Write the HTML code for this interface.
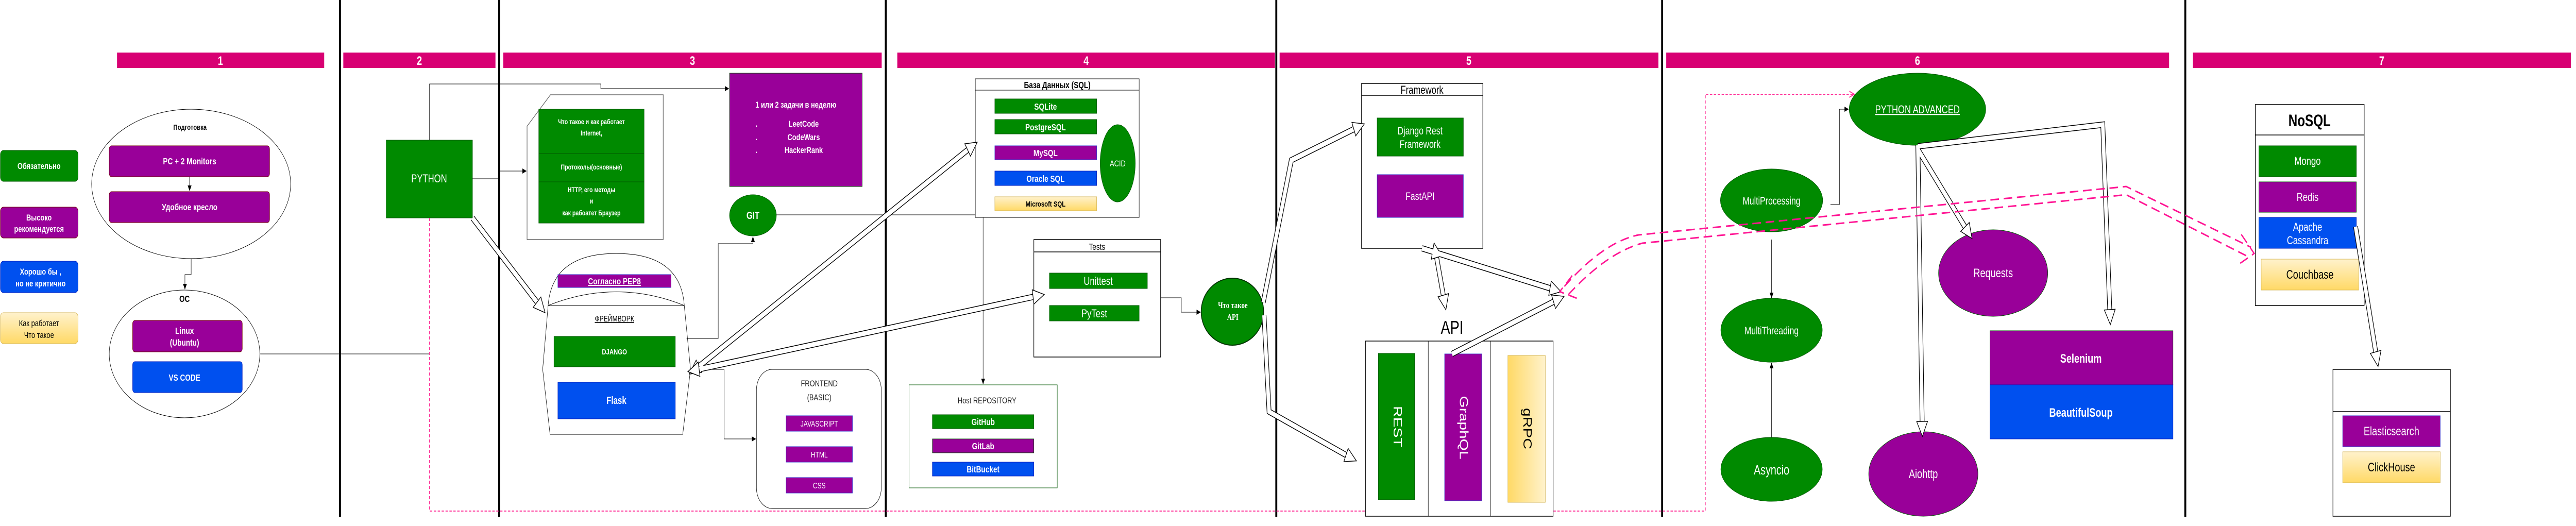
<!DOCTYPE html>
<html><head><meta charset="utf-8"><style>
html,body{margin:0;padding:0;background:#fff;width:100%;height:100%;overflow:hidden;}
svg{display:block;position:fixed;left:0;top:0;width:100vw;height:100vh;}
text{font-family:"Liberation Sans","Noto Sans CJK SC",sans-serif;}
</style></head><body>
<svg viewBox="0 0 6603 1021" preserveAspectRatio="none" xmlns="http://www.w3.org/2000/svg">
<defs>
<linearGradient id="yg" x1="0" y1="0" x2="0" y2="1"><stop offset="0" stop-color="#fff2cc"/><stop offset="1" stop-color="#ffd966"/></linearGradient>
<linearGradient id="ygh" x1="0" y1="0" x2="1" y2="0"><stop offset="0" stop-color="#ffd966"/><stop offset="1" stop-color="#fff2cc"/></linearGradient>
<marker id="ha" markerUnits="userSpaceOnUse" markerWidth="34" markerHeight="34" viewBox="0 0 34 34" refX="3" refY="17" orient="auto-start-reverse"><path d="M1,3 L30,17 L1,31 Z" fill="#fff" stroke="#000" stroke-width="1.5"/></marker>
<marker id="ta" markerUnits="userSpaceOnUse" markerWidth="12" markerHeight="12" viewBox="0 0 12 12" refX="10" refY="6" orient="auto"><path d="M0,1 L11,6 L0,11 Z" fill="#000"/></marker>
<marker id="pa" markerUnits="userSpaceOnUse" markerWidth="14" markerHeight="14" viewBox="0 0 14 14" refX="12" refY="7" orient="auto"><path d="M0,1 L13,7 L0,13" fill="none" stroke="#ff3399" stroke-width="2"/></marker>
</defs>

<g fill="#000">
<rect x="869" y="0" width="5" height="1003"/>
<rect x="1277" y="0" width="5" height="1003"/>
<rect x="2268" y="0" width="5" height="1003"/>
<rect x="3269" y="0" width="5" height="1003"/>
<rect x="4258" y="0" width="5" height="1003"/>
<rect x="5599" y="0" width="5" height="1003"/>
</g>

<g fill="#d80073">
<rect x="300" y="102" width="531" height="30"/>
<rect x="880" y="102" width="390" height="30"/>
<rect x="1290" y="102" width="970" height="30"/>
<rect x="2300" y="102" width="968" height="30"/>
<rect x="3280" y="102" width="971" height="30"/>
<rect x="4271" y="102" width="1289" height="30"/>
<rect x="5621" y="102" width="969" height="30"/>
</g>
<g fill="#fff" font-weight="bold" font-size="24" text-anchor="middle">
<text x="565" y="126">1</text><text x="1075" y="126">2</text><text x="1775" y="126">3</text>
<text x="2784" y="126">4</text><text x="3765" y="126">5</text><text x="4915" y="126">6</text><text x="6105" y="126">7</text>
</g>

<rect x="1" y="292" width="199" height="60" rx="8" fill="#008a00" stroke="#005700"/>
<rect x="1" y="402" width="199" height="60" rx="8" fill="#990099" stroke="#6f0000"/>
<rect x="1" y="507" width="199" height="61" rx="8" fill="#0050ef" stroke="#001dbc"/>
<rect x="1" y="607" width="199" height="60" rx="8" fill="url(#yg)" stroke="#d6b656"/>
<g font-weight="bold" font-size="17" fill="#fff" text-anchor="middle">
<text x="100" y="328">Обязательно</text>
<text x="100" y="428">Высоко</text><text x="100" y="450">рекомендуется</text>
<text x="104" y="533">Хорошо бы ,</text><text x="104" y="556">но не критично</text>
</g>
<g font-size="17" fill="#000" text-anchor="middle"><text x="100" y="633">Как работает</text><text x="100" y="656">Что такое</text></g>

<ellipse cx="490" cy="357" rx="255" ry="145" fill="#fff" stroke="#000"/>
<text x="487" y="252" font-size="15" font-weight="bold" text-anchor="middle">Подготовка</text>
<rect x="280" y="283" width="411" height="60" rx="6" fill="#990099" stroke="#6f0000"/>
<rect x="280" y="372" width="411" height="60" rx="6" fill="#990099" stroke="#6f0000"/>
<g font-weight="bold" font-size="18" fill="#fff" text-anchor="middle"><text x="486" y="319">PC + 2 Monitors</text><text x="486" y="408">Удобное кресло</text></g>
<path d="M486,343 V370" stroke="#000" marker-end="url(#ta)"/>
<path d="M490,502 V533 H474 V561" stroke="#000" fill="none" marker-end="url(#ta)"/>
<ellipse cx="473" cy="687" rx="193" ry="124" fill="#fff" stroke="#000"/>
<text x="473" y="586" font-size="18" font-weight="bold" text-anchor="middle">ОС</text>
<rect x="340" y="622" width="281" height="61" rx="6" fill="#990099" stroke="#6f0000"/>
<rect x="340" y="702" width="281" height="60" rx="6" fill="#0050ef" stroke="#001dbc"/>
<g font-weight="bold" font-size="18" fill="#fff" text-anchor="middle"><text x="473" y="648">Linux</text><text x="473" y="671">(Ubuntu)</text><text x="473" y="739">VS CODE</text></g>
<path d="M666,687 H1101" stroke="#000" fill="none"/>

<rect x="990" y="272" width="221" height="151" fill="#008a00" stroke="#005700"/>
<text x="1100" y="354" font-size="22" fill="#fff" text-anchor="middle">PYTHON</text>
<path d="M1101,272 V163 H1540 V172 H1868" stroke="#000" fill="none" marker-end="url(#ta)"/>
<path d="M1211,347 H1279 V332 H1349" stroke="#000" fill="none" marker-end="url(#ta)"/>
<path d="M1101,423 V992 H4371 V183 H4752" stroke="#ff3399" stroke-width="2" stroke-dasharray="6 4" fill="none" marker-end="url(#pa)"/>

<path d="M1411,184 H1700 V465 H1351 V245 Z" fill="#fff" stroke="#666" stroke-width="1.5"/>
<rect x="1381" y="212" width="270" height="221" fill="#008a00" stroke="#005700"/>
<path d="M1381,298 H1651 M1381,353 H1651" stroke="#005700"/>
<g font-weight="bold" font-size="14" fill="#fff" text-anchor="middle">
<text x="1516" y="241">Что такое и как работает</text><text x="1516" y="263">Internet,</text>
<text x="1516" y="329">Протоколы(основные)</text>
<text x="1516" y="373">HTTP, его методы</text><text x="1516" y="395">и</text><text x="1516" y="418">как рабоатет Браузер</text>
</g>
<rect x="1870" y="142" width="340" height="220" fill="#990099" stroke="#005700"/>
<g font-weight="bold" font-size="17" fill="#fff" text-anchor="middle">
<text x="2040" y="209">1 или 2 задачи в неделю</text>
<text x="2060" y="246">LeetCode</text><text x="2060" y="272">CodeWars</text><text x="2060" y="297">HackerRank</text>
<text x="1939" y="246">.</text><text x="1939" y="272">.</text><text x="1939" y="297">.</text>
</g>
<ellipse cx="1930" cy="418" rx="60" ry="40" fill="#008a00" stroke="#005700"/>
<text x="1930" y="425" font-weight="bold" font-size="20" fill="#fff" text-anchor="middle">GIT</text>
<path d="M1990,417 H2520 V745" stroke="#000" fill="none" marker-end="url(#ta)"/>

<path d="M1405,593 Q1415,492 1580,492 Q1745,492 1754,593 Z" fill="#fff" stroke="#000"/>
<path d="M1405,593 Q1580,540 1754,593" fill="none" stroke="#000"/>
<path d="M1405,593 H1754 L1770,717 L1750,843 H1410 L1391,717 Z" fill="#fff" stroke="#000"/>
<rect x="1430" y="533" width="290" height="25" fill="#990099" stroke="#3333cc"/>
<text x="1575" y="552" font-weight="bold" font-size="18" fill="#fff" text-anchor="middle" text-decoration="underline">Согласно PEP8</text>
<text x="1575" y="624" font-size="16" text-anchor="middle" text-decoration="underline">ФРЕЙМВОРК</text>
<rect x="1420" y="653" width="311" height="59" fill="#008a00" stroke="#005700"/>
<text x="1575" y="688" font-weight="bold" font-size="15" fill="#fff" text-anchor="middle">DJANGO</text>
<rect x="1430" y="742" width="301" height="71" fill="#0050ef" stroke="#001dbc"/>
<text x="1580" y="784" font-weight="bold" font-size="20" fill="#fff" text-anchor="middle">Flask</text>
<path d="M1760,657 H1841 V473 H1930 V460" stroke="#000" fill="none" marker-end="url(#ta)"/>
<path d="M1770,717 H1856 V852 H1937" stroke="#000" fill="none" marker-end="url(#ta)"/>

<rect x="1939" y="717" width="320" height="270" rx="40" fill="#fff" stroke="#000"/>
<g font-size="17" fill="#222" text-anchor="middle"><text x="2100" y="750">FRONTEND</text><text x="2100" y="777">(BASIC)</text></g>
<rect x="2015" y="807" width="170" height="30" fill="#990099" stroke="#3333cc"/>
<rect x="2015" y="867" width="170" height="30" fill="#990099" stroke="#3333cc"/>
<rect x="2015" y="927" width="170" height="30" fill="#990099" stroke="#3333cc"/>
<g font-size="16" fill="#fff" text-anchor="middle"><text x="2100" y="828">JAVASCRIPT</text><text x="2100" y="888">HTML</text><text x="2100" y="948">CSS</text></g>

<rect x="2500" y="153" width="420" height="269" fill="#fff" stroke="#000"/>
<path d="M2500,175 H2920" stroke="#000"/>
<text x="2710" y="171" font-weight="bold" font-size="18" text-anchor="middle">База Данных (SQL)</text>
<rect x="2550" y="192" width="261" height="28" fill="#008a00" stroke="#005700"/>
<rect x="2550" y="232" width="261" height="28" fill="#008a00" stroke="#005700"/>
<rect x="2550" y="283" width="261" height="27" fill="#990099" stroke="#3333cc"/>
<rect x="2550" y="332" width="261" height="28" fill="#0050ef" stroke="#001dbc"/>
<rect x="2550" y="382" width="261" height="27" fill="url(#yg)" stroke="#d6b656"/>
<g font-weight="bold" font-size="18" fill="#fff" text-anchor="middle">
<text x="2680" y="213">SQLite</text><text x="2680" y="253">PostgreSQL</text><text x="2680" y="303">MySQL</text><text x="2680" y="353">Oracle SQL</text>
</g>
<text x="2680" y="401" font-weight="bold" font-size="15" text-anchor="middle">Microsoft SQL</text>
<ellipse cx="2865" cy="317" rx="45" ry="75" fill="#008a00" stroke="#005700"/>
<text x="2865" y="323" font-size="17" fill="#fff" text-anchor="middle">ACID</text>

<rect x="2650" y="465" width="325" height="228" fill="#fff" stroke="#000" stroke-width="1.5"/>
<path d="M2650,489 H2975" stroke="#000" stroke-width="1.5"/>
<text x="2812" y="485" font-size="18" text-anchor="middle">Tests</text>
<rect x="2690" y="530" width="251" height="30" fill="#008a00" stroke="#005700"/>
<rect x="2690" y="593" width="230" height="30" fill="#008a00" stroke="#005700"/>
<g font-size="22" fill="#fff" text-anchor="middle"><text x="2815" y="553">Unittest</text><text x="2805" y="616">PyTest</text></g>
<path d="M2975,578 H3028 V606 H3077" stroke="#000" fill="none" marker-end="url(#ta)"/>
<ellipse cx="3159" cy="605" rx="80" ry="65" fill="#008a00" stroke="#003300" stroke-width="2"/>
<g font-weight="bold" font-size="17" fill="#fff" text-anchor="middle"><text x="3160" y="598" style="font-family:'Liberation Serif',serif">Что такое</text><text x="3160" y="621" style="font-family:'Liberation Serif',serif">API</text></g>

<rect x="2330" y="747" width="380" height="200" fill="#fff" stroke="#005700"/>
<text x="2530" y="783" font-size="17" fill="#222" text-anchor="middle">Host REPOSITORY</text>
<rect x="2390" y="805" width="260" height="27" fill="#008a00" stroke="#005700"/>
<rect x="2390" y="852" width="260" height="27" fill="#990099" stroke="#005700"/>
<rect x="2390" y="897" width="260" height="27" fill="#0050ef" stroke="#001dbc"/>
<g font-weight="bold" font-size="18" fill="#fff" text-anchor="middle"><text x="2520" y="825">GitHub</text><text x="2520" y="872">GitLab</text><text x="2520" y="917">BitBucket</text></g>

<rect x="3490" y="162" width="311" height="320" fill="#fff" stroke="#000" stroke-width="1.5"/>
<path d="M3490,185 H3801" stroke="#000" stroke-width="1.5"/>
<text x="3645" y="182" font-size="22" text-anchor="middle">Framework</text>
<rect x="3530" y="229" width="221" height="74" fill="#008a00" stroke="#005700"/>
<rect x="3530" y="339" width="221" height="83" fill="#990099" stroke="#3333cc"/>
<g font-size="21" fill="#fff" text-anchor="middle"><text x="3640" y="261">Django Rest</text><text x="3640" y="287">Framework</text><text x="3640" y="388">FastAPI</text></g>
<text x="3722" y="648" font-size="36" text-anchor="middle">API</text>
<rect x="3500" y="662" width="481" height="340" fill="#fff" stroke="#000" stroke-width="1.5"/>
<path d="M3661,662 V1002 M3821,662 V1002" stroke="#000"/>
<rect x="3533" y="686" width="93" height="284" fill="#008a00" stroke="#005700"/>
<rect x="3703" y="687" width="95" height="285" fill="#990099" stroke="#3333cc"/>
<rect x="3865" y="690" width="96" height="285" fill="url(#ygh)" stroke="#d6b656"/>
<text transform="translate(3580,828) rotate(90)" font-size="30" fill="#fff" text-anchor="middle" dominant-baseline="middle">REST</text>
<text transform="translate(3750,830) rotate(90)" font-size="30" fill="#fff" text-anchor="middle" dominant-baseline="middle">GraphQL</text>
<text transform="translate(3913,832) rotate(90)" font-size="30" fill="#000" text-anchor="middle" dominant-baseline="middle">gRPC</text>

<ellipse cx="4915" cy="212" rx="175" ry="70" fill="#008a00" stroke="#005700"/>
<text x="4915" y="220" font-size="22" fill="#fff" text-anchor="middle" text-decoration="underline">PYTHON ADVANCED</text>
<ellipse cx="4541" cy="389" rx="131" ry="61" fill="#008a00" stroke="#005700"/>
<ellipse cx="4541" cy="641" rx="130" ry="62" fill="#008a00" stroke="#005700"/>
<ellipse cx="4541" cy="911" rx="130" ry="62" fill="#008a00" stroke="#005700"/>
<g font-size="21" fill="#fff" text-anchor="middle"><text x="4541" y="397">MultiProcessing</text><text x="4541" y="649">MultiThreading</text><text x="4541" y="921" font-size="26">Asyncio</text></g>
<path d="M4692,397 H4715 V212 H4738" stroke="#000" fill="none" marker-end="url(#ta)"/>
<path d="M4541,465 V578" stroke="#000" marker-end="url(#ta)"/>
<path d="M4541,849 V705" stroke="#000" marker-end="url(#ta)"/>
<ellipse cx="5109" cy="530" rx="140" ry="84" fill="#990099" stroke="#005700"/>
<text x="5109" y="538" font-size="24" fill="#fff" text-anchor="middle">Requests</text>
<ellipse cx="4930" cy="920" rx="140" ry="82" fill="#990099" stroke="#005700"/>
<text x="4930" y="928" font-size="24" fill="#fff" text-anchor="middle">Aiohttp</text>
<rect x="5101" y="642" width="469" height="105" fill="#990099" stroke="#005700"/>
<rect x="5101" y="747" width="469" height="105" fill="#0050ef" stroke="#001dbc"/>
<g font-weight="bold" font-size="24" fill="#fff" text-anchor="middle"><text x="5334" y="704">Selenium</text><text x="5334" y="809">BeautifulSoup</text></g>

<rect x="5781" y="203" width="279" height="390" fill="#fff" stroke="#000" stroke-width="1.5"/>
<path d="M5781,262 H6060" stroke="#000" stroke-width="1.5"/>
<text x="5920" y="245" font-weight="bold" font-size="32" text-anchor="middle">NoSQL</text>
<rect x="5790" y="283" width="250" height="60" fill="#008a00" stroke="#005700"/>
<rect x="5790" y="353" width="250" height="59" fill="#990099" stroke="#005700"/>
<rect x="5790" y="422" width="250" height="60" fill="#0050ef" stroke="#001dbc"/>
<rect x="5796" y="503" width="250" height="60" fill="url(#yg)" stroke="#d6b656"/>
<g font-size="22" fill="#fff" text-anchor="middle"><text x="5915" y="320">Mongo</text><text x="5915" y="390">Redis</text><text x="5915" y="448">Apache</text><text x="5915" y="474">Cassandra</text></g>
<text x="5921" y="541" font-size="24" text-anchor="middle">Couchbase</text>
<rect x="5980" y="717" width="301" height="285" fill="#fff" stroke="#000" stroke-width="1.5"/>
<path d="M5980,799 H6281" stroke="#000" stroke-width="1.5"/>
<rect x="6005" y="807" width="250" height="60" fill="#990099" stroke="#3333cc"/>
<rect x="6005" y="877" width="250" height="60" fill="url(#yg)" stroke="#d6b656"/>
<text x="6130" y="845" font-size="24" fill="#fff" text-anchor="middle">Elasticsearch</text>
<text x="6130" y="915" font-size="24" text-anchor="middle">ClickHouse</text>

<g fill="none" stroke-linejoin="miter">
<g stroke="#000" stroke-width="12">
<path d="M1211,423 L1378,588"/>
<path d="M1790,712 L2482,290"/>
<path d="M1790,717 L2650,576"/>
<path d="M3238,587 L3310,311 L3472,250"/>
<path d="M3240,612 L3253,799 L3452,884"/>
<path d="M3682,498 L3700,575"/>
<path d="M3645,482 L3975,560"/>
<path d="M3722,687 L3984,585"/>
<path d="M4916,282 L4927,820"/>
<path d="M4916,290 L5038,442"/>
<path d="M4916,284 L5390,242 L5408,603"/>
<path d="M6038,440 L6090,685"/>
</g>
<g stroke="#fff" stroke-width="9">
<path d="M1211,423 L1378,588" marker-end="url(#ha)"/>
<path d="M1790,712 L2482,290" marker-start="url(#ha)" marker-end="url(#ha)"/>
<path d="M1790,717 L2650,576" marker-start="url(#ha)" marker-end="url(#ha)"/>
<path d="M3238,587 L3310,311 L3472,250" marker-end="url(#ha)"/>
<path d="M3240,612 L3253,799 L3452,884" marker-end="url(#ha)"/>
<path d="M3682,498 L3700,575" marker-start="url(#ha)" marker-end="url(#ha)"/>
<path d="M3645,482 L3975,560" marker-end="url(#ha)"/>
<path d="M3722,687 L3984,585" marker-end="url(#ha)"/>
<path d="M4916,282 L4927,820" marker-end="url(#ha)"/>
<path d="M4916,290 L5038,442" marker-end="url(#ha)"/>
<path d="M4916,284 L5390,242 L5408,603" marker-end="url(#ha)"/>
<path d="M6038,440 L6090,685" marker-end="url(#ha)"/>
</g>
</g>

<g fill="none" stroke="#ff1493" stroke-width="3" stroke-dasharray="22 12">
<path d="M4010,556 Q4110,470 4200,456 L5450,362 L5770,480"/>
<path d="M4020,572 Q4120,490 4210,472 L5450,378 L5762,498"/>
<path d="M4030,535 L3998,566 L4045,580"/>
<path d="M5745,455 L5778,492 L5735,515"/>
</g>
</svg>
</body></html>
